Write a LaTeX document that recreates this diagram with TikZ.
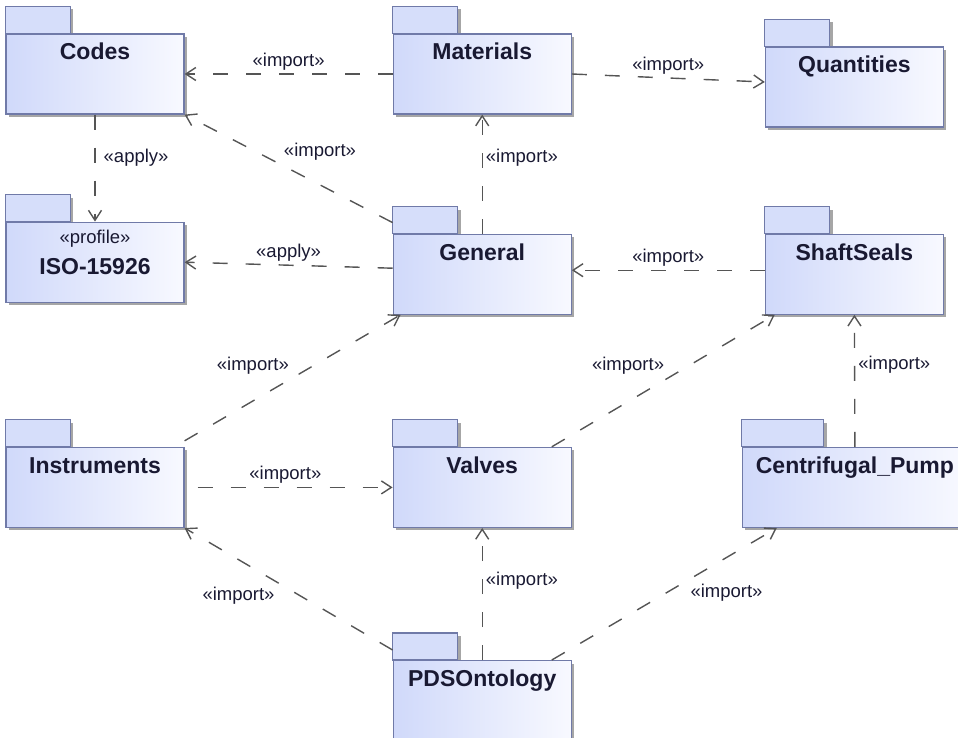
\documentclass[tikz,border=0pt]{standalone}
\usepackage{fontspec}
\setmainfont{Liberation Sans}
\usetikzlibrary{arrows.meta, backgrounds, positioning, shadows}
\definecolor{pkgline}{RGB}{112,122,168}
\definecolor{pkgblue}{RGB}{208,217,250}
\definecolor{pkgpale}{RGB}{248,249,255}
\definecolor{pkgtabfill}{RGB}{214,222,250}
\definecolor{depline}{RGB}{85,85,85}
\definecolor{pkgtext}{RGB}{25,25,50}
\tikzstyle{package}=[rectangle, draw=pkgline, line width=1.2pt, left color=pkgblue, right color=pkgpale, minimum width=178pt, inner sep=0pt, text height=26pt, text depth=54pt, text=pkgtext, font=\bfseries\fontsize{23}{27}\selectfont, drop shadow={shadow xshift=3pt, shadow yshift=-3pt, fill=black, opacity=0.35}]
\tikzstyle{pkgtab}=[rectangle, draw=pkgline, line width=1.2pt, fill=pkgtabfill, minimum width=65pt, minimum height=27pt, inner sep=0pt, outer sep=0pt, anchor=south west, drop shadow={shadow xshift=3pt, shadow yshift=-3pt, fill=black, opacity=0.35}]
\tikzstyle{stereo}=[text=pkgtext, font=\fontsize{18.5}{22}\selectfont, inner sep=3pt]
\tikzstyle{dep}=[draw=depline, line width=1.4pt, dash pattern=on 15pt off 18pt, -{Straight Barb[length=10pt, width=13pt]}]

\begin{document}
\begin{tikzpicture}[x=1pt, y=-1pt]
      \useasboundingbox (0,0) rectangle (958,738);

      \node[package] (codes) at (95,74) {Codes};
      \node[package] (materials) [right=208pt of codes] {Materials};
      \node[package] (quantities) [right=193pt of materials, yshift=-13pt] {Quantities};
      \node[package, text height=52pt, text depth=28pt] (iso) [below=107pt of codes] {ISO-15926};
      \node[stereo, anchor=base] (isostereo) at ([yshift=-22pt]iso.north) {«profile»};
      \node[package] (general) [below=119pt of materials] {General};
      \node[package] (shaftseals) [right=193pt of general] {ShaftSeals};
      \node[package] (valves) [below=132pt of general] {Valves};
      \node[package] (instruments) [left=208pt of valves] {Instruments};
      \node[package, minimum width=225pt] (pump) [right=170pt of valves] {Centrifugal\_Pump};
      \node[package] (pds) [below=132pt of valves] {PDSOntology};

      \begin{scope}[on background layer]
            \foreach \p in {codes, materials, quantities, iso, general, shaftseals, instruments, valves, pds}
                  \node[pkgtab] (tab-\p) at (\p.north west) {};
            \node[pkgtab, minimum width=82pt] (tab-pump) at (pump.north west) {};
      \end{scope}

      \draw[dep] (materials.west) -- node[stereo, above] (imp1) {«import»} (codes.east);
      \draw[dep] (materials.east) -- node[stereo, above] (imp2) {«import»} ([yshift=5pt]quantities.west);
      \draw[dep] ([yshift=11pt]general.north west) -- node[stereo, pos=0.54, above right] (imp3) {«import»} (codes.south east);
      \draw[dep] (general.north) -- node[stereo, pos=0.64, right] (imp4) {«import»} (materials.south);
      \draw[dep] (codes.south) -- node[stereo, pos=0.4, right, xshift=5pt] (app1) {«apply»} (iso.north);
      \draw[dep] ([yshift=6pt]general.west) -- node[stereo, above] (app2) {«apply»} (iso.east);
      \draw[dep] ([yshift=4pt]shaftseals.west) -- node[stereo, above] (imp5) {«import»} ([yshift=4pt]general.east);
      \draw[dep] ([yshift=6pt]instruments.north east) -- node[stereo, above left] (imp6) {«import»} ([xshift=8pt]general.south west);
      \draw[dep] ([xshift=-20pt]valves.north east) -- node[stereo, pos=0.52, above left] (imp7) {«import»} ([xshift=10pt]shaftseals.south west);
      \draw[dep] (pump.north) -- node[stereo, pos=0.62, right] (imp8) {«import»} (shaftseals.south);
      \draw[dep] ([xshift=13pt]instruments.east) -- node[stereo, pos=0.45, above] (imp9) {«import»} (valves.west);
      \draw[dep] ([yshift=10pt]pds.north west) -- node[stereo, pos=0.55, below left] (imp10) {«import»} (instruments.south east);
      \draw[dep] (pds.north) -- node[stereo, pos=0.6, right] (imp11) {«import»} (valves.south);
      \draw[dep] ([xshift=-20pt]pds.north east) -- node[stereo, pos=0.6, below right] (imp12) {«import»} ([xshift=35pt]pump.south west);
\end{tikzpicture}
\end{document}
